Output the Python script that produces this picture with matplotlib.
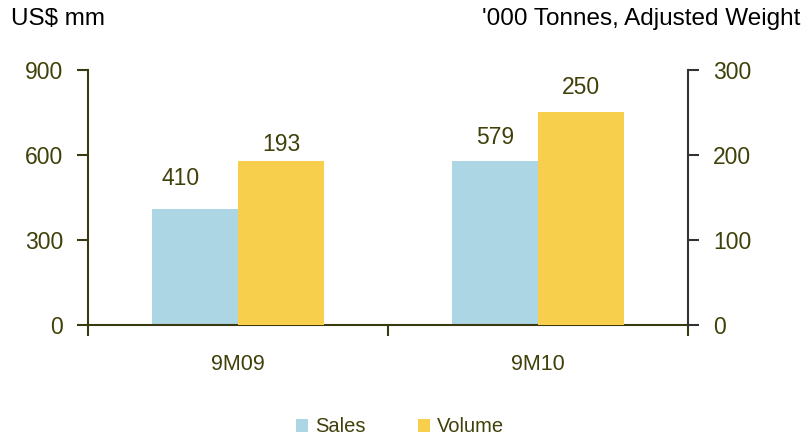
import matplotlib.pyplot as plt
import numpy as np

plt.rcParams["font.family"] = ["Liberation Sans", "DejaVu Sans"]

# data
categories = ["9M09", "9M10"]
sales = [410, 579]      # US$ mm, left axis
volume = [193, 250]     # '000 tonnes, right axis

# label nudges (points), as placed in the original
sales_lbl_off = [(-10, 22), (0, 17)]
volume_lbl_off = [(0, 12), (0, 18)]

SALES_COLOR = "#acd6e4"
VOLUME_COLOR = "#f8cf4c"
AXIS_COLOR = "#3a3a10"
TEXT_COLOR = "#40400a"

fig = plt.figure(figsize=(8.03, 4.38), dpi=100)
ax = fig.add_axes([88 / 803, 113 / 438, 600 / 803, 255 / 438])
ax2 = ax.twinx()

x = np.arange(len(categories))
w = 0.287

b1 = ax.bar(x - w / 2, sales, width=w, color=SALES_COLOR, label="Sales", zorder=2)
b2 = ax2.bar(x + w / 2, volume, width=w, color=VOLUME_COLOR, label="Volume", zorder=2)

ax.set_xlim(-0.5, 1.5)
ax.set_ylim(0, 900)
ax2.set_ylim(0, 300)
ax.set_yticks([0, 300, 600, 900])
ax2.set_yticks([0, 100, 200, 300])

ax.set_xticks(x)
ax.set_xticklabels(categories, fontsize=15.5, color=TEXT_COLOR)
ax.set_xticks([-0.5, 0.5, 1.5], minor=True)
ax.tick_params(axis="x", which="major", length=0, pad=21)
ax.tick_params(axis="x", which="minor", length=8, width=1.5, color=AXIS_COLOR, direction="out")

ax.tick_params(axis="y", labelsize=16.5, labelcolor=TEXT_COLOR, length=8, width=1.5,
               color=AXIS_COLOR, pad=10)
ax2.tick_params(axis="y", labelsize=16.5, labelcolor=TEXT_COLOR, length=8, width=1.5,
                color="#333333", pad=10)

for s in ["top", "right"]:
    ax.spines[s].set_visible(False)
for s in ["top", "left", "bottom"]:
    ax2.spines[s].set_visible(False)
ax.spines["left"].set_color(AXIS_COLOR)
ax.spines["bottom"].set_color(AXIS_COLOR)
ax.spines["left"].set_linewidth(1.5)
ax.spines["bottom"].set_linewidth(1.5)
ax2.spines["right"].set_color("#333333")
ax2.spines["right"].set_linewidth(1.5)

# values
for bar, v, off in zip(b1, sales, sales_lbl_off):
    ax.annotate(f"{v}", (bar.get_x() + bar.get_width() / 2, v), xytext=off,
                textcoords="offset points", ha="center", va="center",
                fontsize=16.5, color=TEXT_COLOR)
for bar, v, off in zip(b2, volume, volume_lbl_off):
    ax2.annotate(f"{v}", (bar.get_x() + bar.get_width() / 2, v), xytext=off,
                 textcoords="offset points", ha="center", va="center",
                 fontsize=16.5, color=TEXT_COLOR)

fig.text(11 / 803, 1 - 19 / 438, "US$ mm", fontsize=17.5, color="black", va="center", ha="left")
fig.text(800 / 803, 1 - 19 / 438, "'000 Tonnes, Adjusted Weight", fontsize=17.5, color="black",
         va="center", ha="right")

fig.legend(handles=[b1, b2], labels=["Sales", "Volume"], loc="center",
           bbox_to_anchor=(400 / 803, 1 - 427 / 438), ncol=2, frameon=False, fontsize=14.5,
           handlelength=0.6, handleheight=0.6, handletextpad=0.35, columnspacing=2.6,
           labelcolor=TEXT_COLOR)

fig.savefig("out.png", dpi=100)
